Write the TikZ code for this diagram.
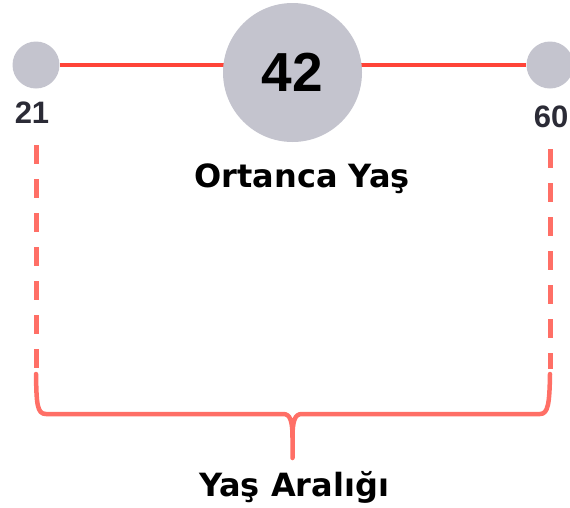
\documentclass[tikz,border=0pt]{standalone}
\usepackage{fontspec}
\setmainfont{DejaVu Sans}
\newfontfamily\numfont{Liberation Sans}
\usetikzlibrary{backgrounds}
\definecolor{dotgray}{HTML}{C4C4CE}
\definecolor{linered}{HTML}{FF4438}
\definecolor{salmon}{HTML}{FF6F66}
\definecolor{labelgray}{HTML}{2B2B36}
\tikzset{
    agedot/.style={circle, fill=dotgray, inner sep=0pt, minimum size=47pt}, % the small end points of the line
    mediandot/.style={circle, fill=dotgray, inner sep=0pt, minimum size=139pt,
        font=\numfont\bfseries\fontsize{55}{60}\selectfont}, % the big circle in the middle
    agelabel/.style={anchor=base, text=labelgray, font=\numfont\bfseries\fontsize{31}{36}\selectfont}, % numbers below the end points
    caption/.style={anchor=base, font=\bfseries\fontsize{32}{38}\selectfont}, % the two titles
    ageline/.style={linered, line width=4pt}, % the red line
    rangeline/.style={salmon, line width=5pt, dash pattern=on 19pt off 15pt}, % dashed drop lines
    bracket/.style={salmon, line width=4.5pt, line join=round, line cap=round}, % the curly bracket
}

\begin{document}
\begin{tikzpicture}[x=1pt, y=-1pt]
    \useasboundingbox (0,0) rectangle (570,507);
    \node[agedot] (minage) at (36,65) {};
    \node[mediandot] (median) at (292.5,72.5) {42};
    \node[agedot] (maxage) at (550,65) {};
    \begin{scope}[on background layer]
        \draw[ageline] (minage) -- (maxage);
    \end{scope}
    \node[agelabel] (minlabel) at (32,123) {21};
    \node[agelabel] (maxlabel) at (551,127) {60};
    \node[caption] (mediancap) at (302,187) {Ortanca Yaş};
    \node[caption] (rangecap) at (294,496) {Yaş Aralığı};
    % dashed lines down to the bracket
    \coordinate (mintop) at (36,145);
    \coordinate (minbot) at (36,369);
    \coordinate (maxtop) at (550,149);
    \coordinate (maxbot) at (550,369);
    \draw[rangeline] (mintop) -- (minbot);
    \draw[rangeline] (maxtop) -- (maxbot);
    \coordinate (tip) at (292.5,458);
    \draw[bracket] (36,374) .. controls (36.5,404) and (37,414) .. (46,414) -- (283,414)
        .. controls (290,414) and (292.5,420) .. (292.5,438) -- (tip) -- (292.5,438)
        .. controls (292.5,420) and (295,414) .. (302,414) -- (540,414)
        .. controls (548,414) and (549.5,404) .. (550,374);
\end{tikzpicture}
\end{document}
